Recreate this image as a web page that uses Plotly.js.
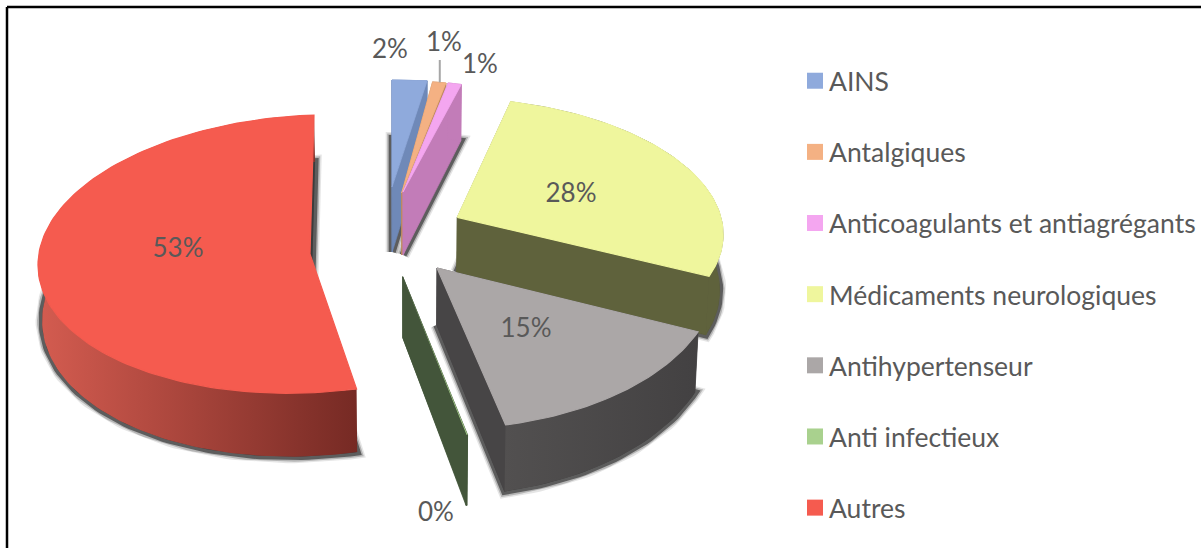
<!DOCTYPE html>
<html><head><meta charset="utf-8">
<script src="https://cdn.plot.ly/plotly-3.0.1.min.js"></script>
<style>html,body{margin:0;padding:0;background:#fff}</style>
</head><body><div id="chart" style="width:1201px;height:548px"></div>
<script>
// Data
var categories = ['AINS','Antalgiques','Anticoagulants et antiagrégants','Médicaments neurologiques','Antihypertenseur','Anti infectieux','Autres'];
var shares = [2, 1, 1, 28, 15, 0.05, 53];

// Styles
var topColors  = ['#8faadc','#f4b183','#f4a6f0','#eff69d','#aba7a7','#a9d18e','#f55b4f'];
var sideColors = ['#6f89b8','#c08a5c','#c27cb8','#5f623c','#474546','#43553a','#c4504a'];
var outerGradients = [null,null,null,null,['#525050','#434142'],null,['#d45c50','#762a24']];
var shadowed = [true,false,true,true,true,false,true];
var cutWalls = [true,true,true,true,true,true,false];
var topEdge = [0.8,0.8,0.8,1.2,1.2,0,1.2];
// Projection of each exploded slice onto the page: apex, ellipse basis, perspective
var proj = [
 {ax:392,  ay:187,  a:280,b:0,    c:0,  d:-107,  p:0,    d0:65},
 {ax:401.7,ay:193,  a:215,b:4,    c:0,  d:-112,  p:0,    d0:62},
 {ax:403,  ay:192,  a:215,b:5,    c:0,  d:-111,  p:0,    d0:63},
 {ax:457.3,ay:217.3,a:264,b:-7.9, c:1.8,d:-129.9,p:.088, d0:55},
 {ax:437,  ay:268,  a:281,b:-15.8,c:-5, d:-160.8,p:0,    d0:57},
 {ax:402.7,ay:276.7,a:281,b:-12,  c:-5, d:-162,  p:0,    d0:61},
 {ax:310,  ay:254,  a:272,b:4,    c:-9, d:-139,  p:0,    d0:55}
];
var labelPos = [[390,51],[444,44],[480,66],[571,195],[526,330],[436,514],[178,250]];

var total = shares.reduce(function(s,v){return s+v;},0);
var traces = [], shadows = [], faces = [];

function topPt(P,deg){
  var t=deg*Math.PI/180,u=Math.sin(t),v=Math.cos(t),w=1+P.p*v;
  return [P.ax+(P.a*u+P.b*v)/w, P.ay+(P.c*u+P.d*v)/w];
}
function drop(P,q){
  var depth=P.d0+0.06*(q[1]-P.ay);
  return [q[0]-(q[0]-410)*0.011, q[1]+depth];
}
function poly(pts,fill,extra){
  var tr={type:'scatter',mode:'lines',x:pts.map(function(q){return q[0];}).concat([pts[0][0]]),
    y:pts.map(function(q){return q[1];}).concat([pts[0][1]]),fill:'toself',fillcolor:fill,
    line:{width:0,color:fill},hoverinfo:'skip',showlegend:false};
  for(var k in extra){tr[k]=extra[k];}
  return tr;
}

var acc=0;
shares.forEach(function(val,i){
  var P=proj[i], t0=acc/total*360, t1=(acc+val)/total*360; acc+=val;
  var rim=[],n=Math.max(2,Math.ceil((t1-t0)/1.5)+1);
  for(var j=0;j<n;j++){rim.push(topPt(P,t0+(t1-t0)*j/(n-1)));}
  var apex=[P.ax,P.ay], rimLow=rim.map(function(q){return drop(P,q);}), apexLow=drop(P,apex);
  if(shadowed[i]){
    var low=[apexLow].concat(rimLow);
    shadows.push(poly(low,'rgba(60,60,60,0.15)',{line:{width:13,color:'rgba(80,80,80,0.15)'}}));
    shadows.push(poly(low,'rgba(60,60,60,0.30)',{line:{width:10,color:'rgba(70,70,70,0.30)'}}));
    shadows.push(poly(low,'rgba(55,55,55,0.85)',{line:{width:7,color:'rgba(55,55,55,0.70)'}}));
  }
  var edge={line:{width:0.8,color:sideColors[i]}};
  // the two cut walls, then the outer curved wall
  var r0=rim[0],r1=rim[rim.length-1];
  if(cutWalls[i]){
    faces.push(poly([apex,r0,drop(P,r0),apexLow],sideColors[i],edge));
    faces.push(poly([apex,r1,drop(P,r1),apexLow],sideColors[i],edge));
  }
  var wall=edge;
  if(outerGradients[i]){wall={fillgradient:{type:'horizontal',colorscale:[[0,outerGradients[i][0]],[1,outerGradients[i][1]]]}};}
  faces.push(poly(rim.concat(rimLow.slice().reverse()),sideColors[i],wall));
  // top surface
  faces.push(poly([apex].concat(rim),topColors[i],{line:{width:topEdge[i],color:topColors[i]}}));
});
traces=traces.concat(shadows,faces);

// leader line of the second label
var leader=topPt(proj[1],(shares[0]+shares[1]/2)/total*360);
traces.push({type:'scatter',mode:'lines',x:[leader[0]+0.5,leader[0]+0.5],y:[leader[1],60],
  line:{color:'#a6a6a6',width:2},hoverinfo:'skip',showlegend:false});

// value labels
traces.push({type:'scatter',mode:'text',
  x:labelPos.map(function(q){return q[0];}),y:labelPos.map(function(q){return q[1];}),
  text:shares.map(function(v){return Math.round(v)+'%';}),textposition:'middle center',
  textfont:{family:'Lato',size:26,color:'#595959'},hoverinfo:'skip',showlegend:false});

// legend
categories.forEach(function(name,i){
  traces.push({type:'scatter',mode:'markers',x:[null],y:[null],name:name,legendgroup:'g'+i,
    marker:{symbol:'square',size:16,color:topColors[i]},hoverinfo:'skip'});
});

var layout={
  width:1201,height:548,margin:{l:0,r:0,t:0,b:0},paper_bgcolor:'#fff',plot_bgcolor:'#fff',
  xaxis:{visible:false,range:[0,1201],fixedrange:true},
  yaxis:{visible:false,range:[548,0],fixedrange:true},
  legend:{x:789/1201,xanchor:'left',y:1-57/548,yanchor:'top',tracegroupgap:33.7,
    font:{family:'Lato',size:26.5,color:'#595959'},bgcolor:'rgba(0,0,0,0)'},
  shapes:[
    {type:'line',xref:'paper',yref:'paper',x0:7/1201,x1:1,y0:1-7/548,y1:1-7/548,line:{color:'#000',width:2.5}},
    {type:'line',xref:'paper',yref:'paper',x0:7/1201,x1:7/1201,y0:1-7/548,y1:0,line:{color:'#000',width:2.5}}
  ]
};
Plotly.newPlot('chart',traces,layout,{displayModeBar:false,staticPlot:true}).then(function(gd){
  gd.querySelectorAll('.legend .legendsymbols').forEach(function(g){g.setAttribute('transform','translate(6,0)');});
});
</script></body></html>
